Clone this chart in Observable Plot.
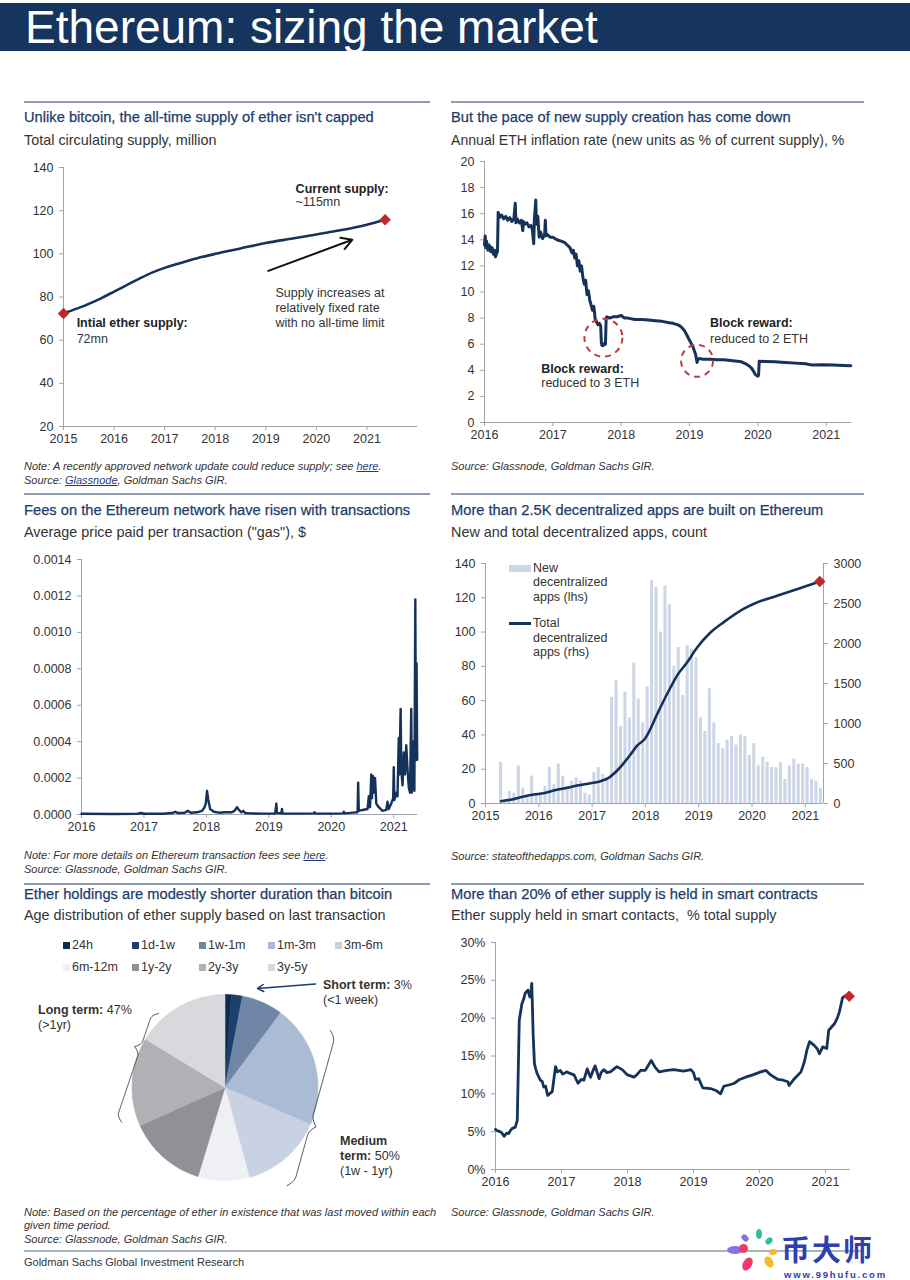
<!DOCTYPE html>
<html><head><meta charset="utf-8">
<script src="https://cdn.jsdelivr.net/npm/d3@7"></script>
<script src="https://cdn.jsdelivr.net/npm/@observablehq/plot@0.6"></script>
<style>
body{margin:0;background:#fff;font-family:"Liberation Sans",Arial,sans-serif;}
#page{position:relative;width:910px;height:1280px;overflow:hidden;background:#fff;}
.abs{position:absolute;white-space:nowrap;line-height:1;}
.title{color:#1d3c69;-webkit-text-stroke:0.25px #1d3c69;}
.sub{color:#333;}
.note{color:#333;font-style:italic;}
.note u{color:#1d3c7a;}
.lbl{color:#333;}
.chart{position:absolute;}
.chart svg{overflow:visible;}
</style></head><body><div id="page"></div>
<script>
// ---------------- DATA ----------------
// Panel 1: total circulating supply (million)
const supplyYears = [2015.0, 2015.25, 2015.5, 2015.75, 2016.0, 2016.25, 2016.5, 2016.75, 2017.0, 2017.25, 2017.5, 2017.75, 2018.0, 2018.5, 2019.0, 2019.5, 2020.0, 2020.5, 2021.0, 2021.36];
const supplyValues = [72.4, 74.5, 76.8, 79.5, 82.5, 85.5, 88.5, 91.3, 93.5, 95.3, 97.0, 98.6, 100.0, 102.5, 105.0, 107.0, 109.0, 111.0, 113.5, 115.8];
const supplyXTicks = [2015, 2016, 2017, 2018, 2019, 2020, 2021];
const supplyYTicks = [20, 40, 60, 80, 100, 120, 140];

// Panel 2: annual ETH inflation rate (%)
const inflation = [[2016.00,13.6],[2016.01,14.3],[2016.02,13.4],[2016.03,13.9],[2016.05,13.2],[2016.07,13.6],[2016.09,13.1],[2016.11,13.4],[2016.13,12.9],[2016.15,13.2],[2016.16,12.7],[2016.18,13.0],[2016.19,13.1],[2016.20,16.1],[2016.22,15.7],[2016.25,15.9],[2016.28,15.6],[2016.31,15.8],[2016.34,15.5],[2016.37,15.7],[2016.40,15.4],[2016.43,15.6],[2016.45,16.8],[2016.46,15.3],[2016.48,15.6],[2016.51,15.3],[2016.54,15.5],[2016.56,14.7],[2016.57,15.4],[2016.59,15.2],[2016.62,15.3],[2016.65,15.0],[2016.68,15.1],[2016.70,14.8],[2016.72,13.7],[2016.73,15.6],[2016.74,16.3],[2016.75,17.05],[2016.76,15.2],[2016.78,15.8],[2016.80,14.2],[2016.82,14.6],[2016.85,14.1],[2016.88,14.4],[2016.89,15.5],[2016.90,14.3],[2016.92,14.4],[2016.96,14.2],[2017.00,14.2],[2017.06,14.0],[2017.12,13.9],[2017.17,13.8],[2017.21,13.6],[2017.25,13.4],[2017.28,13.0],[2017.30,13.2],[2017.32,12.6],[2017.34,12.9],[2017.36,12.0],[2017.38,12.4],[2017.40,11.6],[2017.42,12.0],[2017.44,11.1],[2017.46,10.6],[2017.48,10.9],[2017.50,9.8],[2017.52,10.1],[2017.54,9.4],[2017.56,9.0],[2017.58,8.6],[2017.60,8.9],[2017.62,7.9],[2017.64,7.7],[2017.66,7.5],[2017.68,7.6],[2017.70,7.4],[2017.71,6.1],[2017.72,5.9],[2017.74,5.9],[2017.76,6.1],[2017.77,6.0],[2017.78,8.0],[2017.79,8.1],[2017.83,8.0],[2017.88,8.1],[2017.94,8.1],[2018.00,8.2],[2018.05,8.0],[2018.10,8.0],[2018.20,7.9],[2018.30,7.9],[2018.40,7.85],[2018.50,7.8],[2018.60,7.75],[2018.70,7.65],[2018.76,7.6],[2018.82,7.5],[2018.86,7.4],[2018.90,7.2],[2018.93,7.0],[2018.96,6.7],[2018.99,6.4],[2019.02,6.1],[2019.05,5.8],[2019.07,5.5],[2019.09,5.2],[2019.10,4.9],[2019.11,4.6],[2019.12,4.8],[2019.14,4.9],[2019.20,4.85],[2019.30,4.85],[2019.40,4.8],[2019.50,4.8],[2019.60,4.75],[2019.70,4.7],[2019.76,4.65],[2019.80,4.55],[2019.84,4.45],[2019.88,4.3],[2019.91,4.15],[2019.94,3.9],[2019.96,3.7],[2019.98,3.6],[2020.00,3.55],[2020.01,3.6],[2020.02,4.7],[2020.03,4.7],[2020.10,4.68],[2020.25,4.65],[2020.40,4.6],[2020.55,4.55],[2020.70,4.5],[2020.75,4.45],[2020.80,4.4],[2020.95,4.42],[2021.10,4.4],[2021.25,4.37],[2021.36,4.35]];
const inflXTicks = [2016, 2017, 2018, 2019, 2020, 2021];
const inflYTicks = [0, 2, 4, 6, 8, 10, 12, 14, 16, 18, 20];

// Panel 3: average gas price per transaction ($)
const gas = [[2016.00,0.000004],[2016.5,0.000003],[2016.9,0.000004],[2016.95,0.000008],[2017.0,0.000004],[2017.3,0.000004],[2017.45,0.000008],[2017.5,0.000015],[2017.55,0.000008],[2017.65,0.00001],[2017.7,0.00002],[2017.75,0.00001],[2017.85,0.000012],[2017.93,0.00002],[2017.97,0.00004],[2017.99,0.00006],[2018.01,0.00013],[2018.03,0.00008],[2018.06,0.00003],[2018.12,0.000015],[2018.2,0.00001],[2018.3,0.000012],[2018.4,0.000012],[2018.45,0.00002],[2018.49,0.00004],[2018.52,0.000025],[2018.56,0.000012],[2018.59,0.00002],[2018.62,0.000008],[2018.7,0.000006],[2018.9,0.000005],[2019.1,0.000005],[2019.12,0.00006],[2019.13,0.000008],[2019.2,0.000006],[2019.21,0.00003],[2019.22,0.000005],[2019.5,0.000005],[2019.72,0.000006],[2019.73,0.000012],[2019.75,0.000005],[2020.0,0.000005],[2020.19,0.000006],[2020.2,0.000015],[2020.22,0.000006],[2020.35,0.00001],[2020.42,0.000012],[2020.43,0.000175],[2020.44,0.00002],[2020.5,0.000025],[2020.58,0.00003],[2020.6,0.0001],[2020.62,0.00004],[2020.64,0.00022],[2020.65,0.00009],[2020.67,0.00021],[2020.68,0.00012],[2020.7,0.0002],[2020.72,0.00006],[2020.76,0.00004],[2020.82,0.00002],[2020.88,0.000025],[2020.9,0.00007],[2020.92,0.00003],[2020.96,0.00006],[2020.99,0.00009],[2021.0,0.00026],[2021.01,0.00008],[2021.04,0.00012],[2021.06,0.0001],[2021.08,0.00042],[2021.09,0.00022],[2021.11,0.00058],[2021.12,0.00025],[2021.14,0.00016],[2021.16,0.00034],[2021.18,0.00022],[2021.2,0.00038],[2021.22,0.00025],[2021.24,0.00015],[2021.26,0.00012],[2021.28,0.00058],[2021.29,0.00012],[2021.31,0.0004],[2021.33,0.00013],[2021.345,0.00118],[2021.355,0.0003],[2021.365,0.00083],[2021.375,0.0003]];
const gasXTicks = [2016, 2017, 2018, 2019, 2020, 2021];
const gasYTicks = [0, 0.0002, 0.0004, 0.0006, 0.0008, 0.0010, 0.0012, 0.0014];

// Panel 4: decentralized apps
const dappFirstMonth = 2015 + 3 / 12; // April 2015
const dappNew = [24, 1, 7, 6, 22, 9, 5, 16, 6,
  6, 10, 21, 11, 23, 16, 10, 13, 15, 13, 6, 5,
  18, 21, 17, 15, 62, 72, 45, 65, 50, 82, 61, 47,
  68, 130, 126, 100, 127, 116, 80, 91, 63, 92, 90, 85,
  50, 42, 67, 47, 35, 32, 37, 39, 34, 40, 39, 28,
  35, 22, 27, 24, 21, 21, 24, 14, 22, 26, 23, 23,
  21, 14, 13, 9];
const dappTotal = [[2015.29,29],[2015.47,46],[2015.72,87],[2015.91,112],[2016.09,129],[2016.34,171],[2016.53,196],[2016.72,225],[2016.97,254],[2017.16,279],[2017.31,321],[2017.47,412],[2017.72,612],[2017.84,721],[2018.0,817],[2018.06,887],[2018.22,1117],[2018.47,1450],[2018.59,1596],[2018.78,1762],[2018.97,1950],[2019.22,2137],[2019.47,2267],[2019.84,2433],[2020.09,2512],[2020.47,2596],[2020.84,2679],[2021.27,2775]];
const dappXTicks = [2015, 2016, 2017, 2018, 2019, 2020, 2021];
const dappLeftTicks = [0, 20, 40, 60, 80, 100, 120, 140];
const dappRightTicks = [0, 500, 1000, 1500, 2000, 2500, 3000];

// Panel 5: age distribution of ether supply (% of supply)
const ageBands = ["24h", "1d-1w", "1w-1m", "1m-3m", "3m-6m", "6m-12m", "1y-2y", "2y-3y", "3y-5y"];
const ageShares = [1.1, 1.9, 7.2, 21.3, 14.3, 8.9, 13.6, 15.4, 16.3];
const ageColors = ["#0c2a52", "#1c3f6b", "#6f86a6", "#a9bbd5", "#c8d2e2", "#eef0f3", "#8f9196", "#afb1b5", "#d8d9dc"];

// Panel 6: ether held in smart contracts (% of supply)
const smart = [[2016.0,5.3],[2016.03,5.1],[2016.07,5.0],[2016.1,4.8],[2016.13,4.4],[2016.17,4.8],[2016.2,4.75],[2016.23,5.2],[2016.25,5.4],[2016.3,5.6],[2016.33,6.5],[2016.36,19.7],[2016.4,21.9],[2016.43,22.6],[2016.45,23.3],[2016.49,23.7],[2016.52,22.8],[2016.54,23.8],[2016.55,24.6],[2016.57,18.0],[2016.59,14.0],[2016.61,13.3],[2016.63,12.7],[2016.68,11.8],[2016.71,11.6],[2016.73,10.9],[2016.76,11.0],[2016.79,9.8],[2016.83,10.1],[2016.86,10.3],[2016.91,13.6],[2016.94,12.9],[2016.98,13.1],[2017.02,12.6],[2017.08,12.9],[2017.13,12.7],[2017.19,12.5],[2017.25,11.4],[2017.3,11.9],[2017.34,11.8],[2017.39,13.3],[2017.42,12.6],[2017.44,12.2],[2017.48,13.1],[2017.51,13.7],[2017.57,12.0],[2017.6,12.8],[2017.64,13.2],[2017.69,12.8],[2017.74,12.9],[2017.84,13.6],[2017.92,13.2],[2018.0,12.5],[2018.1,12.2],[2018.15,12.6],[2018.2,13.1],[2018.27,13.1],[2018.36,14.4],[2018.42,13.5],[2018.48,12.9],[2018.6,13.1],[2018.7,13.2],[2018.85,13.0],[2018.96,13.2],[2019.0,12.8],[2019.03,11.9],[2019.08,12.0],[2019.14,10.8],[2019.26,10.7],[2019.35,10.4],[2019.41,10.0],[2019.46,11.0],[2019.55,11.2],[2019.62,11.4],[2019.7,11.9],[2019.79,12.2],[2019.9,12.5],[2020.02,12.9],[2020.1,13.1],[2020.17,12.5],[2020.28,11.9],[2020.36,11.8],[2020.43,11.6],[2020.45,11.1],[2020.53,12.0],[2020.63,12.9],[2020.68,14.2],[2020.72,15.8],[2020.76,16.9],[2020.83,16.4],[2020.88,15.9],[2020.91,15.3],[2020.96,16.2],[2021.02,16.0],[2021.05,18.4],[2021.1,18.9],[2021.14,19.3],[2021.18,20.0],[2021.21,20.8],[2021.26,22.7],[2021.31,23.0],[2021.36,22.9]];
const smartXTicks = [2016, 2017, 2018, 2019, 2020, 2021];
const smartYTicks = [0, 5, 10, 15, 20, 25, 30];

// ---------------- STYLE ----------------
const NAVY = "#15325a", RED = "#c0282e", AXIS = "#a0a4aa", TXT = "#333";
const TITLE = 14.7, SUB = 14.4, NOTE = 11, LBL = 12.5;
const baseStyle = {fontFamily: '"Liberation Sans", Arial, sans-serif', fontSize: "12.5px", color: TXT, background: "transparent", overflow: "visible"};
const page = document.getElementById("page");

function div(cls, x, yc, html, size, extra) {
  const d = document.createElement("div");
  d.className = "abs " + cls;
  d.style.left = x + "px";
  d.style.top = (yc - size / 2) + "px";
  d.style.fontSize = size + "px";
  if (extra) Object.assign(d.style, extra);
  d.innerHTML = html;
  page.appendChild(d);
  return d;
}
function box(x, y, w, h, bg) {
  const d = document.createElement("div");
  d.style.cssText = `position:absolute;left:${x}px;top:${y}px;width:${w}px;height:${h}px;background:${bg}`;
  page.appendChild(d);
  return d;
}
function place(svg, x, y) {
  const w = document.createElement("div");
  w.className = "chart";
  w.style.left = x + "px";
  w.style.top = y + "px";
  w.appendChild(svg);
  page.appendChild(w);
}
const xAxis = (ticks, fmt) => Plot.axisX({ticks, tickFormat: fmt || (d => String(d)), tickSize: 4, tickPadding: 4, stroke: AXIS, fill: TXT, label: null});
const yAxis = (ticks, fmt, anchor) => Plot.axisY({ticks, tickFormat: fmt || (d => String(d)), tickSize: 4, tickPadding: 6, stroke: AXIS, fill: TXT, label: null, anchor: anchor || "left"});
const marker = (data) => Plot.dot(data, {x: "year", y: "value", symbol: "square", rotate: 45, fill: RED, r: 4.6});

// ---------------- HEADER ----------------
box(0, 3, 910, 48, "#15355f");
div("", 25, 27, "Ethereum: sizing the market", 46, {color: "#fff"});

// separators
box(24, 101, 406, 2, "#8e9db2"); box(451, 101, 413, 2, "#8e9db2");
box(24, 493, 406, 2, "#8e9db2"); box(451, 493, 413, 2, "#8e9db2");
box(24, 883, 406, 2, "#8e9db2"); box(451, 883, 413, 2, "#8e9db2");
box(24, 1250, 840, 1.5, "#a9b3c1");

// ---------------- TEXTS ----------------
div("title", 24, 117, "Unlike bitcoin, the all-time supply of ether isn't capped", TITLE);
div("sub", 24, 140, "Total circulating supply, million", SUB);
div("note", 24, 466, "Note: A recently approved network update could reduce supply; see <u>here</u>.", NOTE);
div("note", 24, 480, "Source: <u>Glassnode</u>, Goldman Sachs GIR.", NOTE);

div("title", 451, 117, "But the pace of new supply creation has come down", TITLE);
div("sub", 451, 140, "Annual ETH inflation rate (new units as % of current supply), %", 14.1);
div("note", 451, 466, "Source: Glassnode, Goldman Sachs GIR.", NOTE);

div("title", 24, 510.5, "Fees on the Ethereum network have risen with transactions", TITLE);
div("sub", 24, 532.5, "Average price paid per transaction (\"gas\"), $", SUB);
div("note", 24, 855.5, "Note: For more details on Ethereum transaction fees see <u>here</u>.", NOTE);
div("note", 24, 869.5, "Source: Glassnode, Goldman Sachs GIR.", NOTE);

div("title", 451, 510.5, "More than 2.5K decentralized apps are built on Ethereum", TITLE);
div("sub", 451, 532.5, "New and total decentralized apps, count", SUB);
div("note", 451, 856, "Source: stateofthedapps.com, Goldman Sachs GIR.", NOTE);

div("title", 24, 894, "Ether holdings are modestly shorter duration than bitcoin", TITLE);
div("sub", 24, 915.5, "Age distribution of ether supply based on last transaction", SUB);
div("note", 24, 1212, "Note: Based on the percentage of ether in existence that was last moved within each", NOTE);
div("note", 24, 1225.5, "given time period.", NOTE);
div("note", 24, 1239.5, "Source: Glassnode, Goldman Sachs GIR.", NOTE);

div("title", 451, 894, "More than 20% of ether supply is held in smart contracts", TITLE);
div("sub", 451, 915.5, "Ether supply held in smart contacts,&nbsp; % total supply", SUB);
div("note", 451, 1212, "Source: Glassnode, Goldman Sachs GIR.", NOTE);

div("", 24, 1262, "Goldman Sachs Global Investment Research", 11, {color: "#333"});

// ---------------- PANEL 1 ----------------
const supplyData = supplyYears.map((y, i) => ({year: y, value: supplyValues[i]}));
const supplyEnds = [supplyData[0], supplyData[supplyData.length - 1]];
place(Plot.plot({
  width: 400, height: 295, marginLeft: 39, marginRight: 7, marginTop: 12, marginBottom: 24,
  style: baseStyle,
  x: {domain: [2015, 2022]}, y: {domain: [20, 140]},
  marks: [
    Plot.ruleX([2015], {stroke: AXIS}),
    Plot.ruleY([20], {stroke: AXIS}),
    yAxis(supplyYTicks),
    xAxis(supplyXTicks),
    Plot.line(supplyData, {x: "year", y: "value", stroke: NAVY, strokeWidth: 2.6, curve: "monotone-x"}),
    marker(supplyEnds),
    Plot.arrow([{x1: 2019.05, y1: 92.1, x2: 2020.71, y2: 106.5}], {x1: "x1", y1: "y1", x2: "x2", y2: "y2", stroke: "#111", strokeWidth: 2, headLength: 9}),
    Plot.text([{x: 2019.59, y: 130.1, t: "Current supply:"}, {x: 2015.26, y: 68.1, t: "Intial ether supply:"}], {x: "x", y: "y", text: "t", textAnchor: "start", fontWeight: "bold", fill: "#222", fontSize: LBL}),
    Plot.text([{x: 2019.59, y: 124.0, t: "~115mn"}, {x: 2015.26, y: 60.7, t: "72mn"},
      {x: 2019.19, y: 82.0, t: "Supply increases at"}, {x: 2019.19, y: 75.1, t: "relatively fixed rate"}, {x: 2019.19, y: 68.1, t: "with no all-time limit"}],
      {x: "x", y: "y", text: "t", textAnchor: "start", fill: TXT, fontSize: LBL})
  ]
}), 24, 155);

// ---------------- PANEL 2 ----------------
const inflData = inflation.map(([y, v]) => ({year: y, value: v}));
place(Plot.plot({
  width: 420, height: 295, marginLeft: 44, marginRight: 9, marginTop: 11, marginBottom: 23,
  style: baseStyle,
  x: {domain: [2016, 2021.37]}, y: {domain: [0, 20]},
  marks: [
    Plot.ruleX([2016], {stroke: AXIS}),
    Plot.ruleY([0], {stroke: AXIS}),
    yAxis(inflYTicks),
    xAxis(inflXTicks),
    Plot.line(inflData, {x: "year", y: "value", stroke: NAVY, strokeWidth: 3}),
    Plot.dot([{x: 2017.74, y: 6.5}], {x: "x", y: "y", r: 19, stroke: "#c03a3e", strokeWidth: 2, strokeDasharray: "6,5", fill: "none"}),
    Plot.dot([{x: 2019.11, y: 4.73}], {x: "x", y: "y", r: 16, stroke: "#c03a3e", strokeWidth: 2, strokeDasharray: "6,5", fill: "none"}),
    Plot.text([{x: 2016.83, y: 4.11, t: "Block reward:"}, {x: 2019.30, y: 7.65, t: "Block reward:"}], {x: "x", y: "y", text: "t", textAnchor: "start", fontWeight: "bold", fill: "#222", fontSize: LBL}),
    Plot.text([{x: 2016.83, y: 3.05, t: "reduced to 3 ETH"}, {x: 2019.30, y: 6.42, t: "reduced to 2 ETH"}], {x: "x", y: "y", text: "t", textAnchor: "start", fill: TXT, fontSize: LBL})
  ]
}), 440, 150);

// ---------------- PANEL 3 ----------------
const gasData = gas.map(([y, v]) => ({year: y, value: v}));
place(Plot.plot({
  width: 400, height: 290, marginLeft: 57, marginRight: 7, marginTop: 11, marginBottom: 24,
  style: baseStyle,
  x: {domain: [2016, 2021.38]}, y: {domain: [0, 0.0014]},
  marks: [
    Plot.ruleX([2016], {stroke: AXIS}),
    Plot.ruleY([0], {stroke: AXIS}),
    yAxis(gasYTicks, d => d.toFixed(4)),
    xAxis(gasXTicks),
    Plot.line(gasData, {x: "year", y: "value", stroke: NAVY, strokeWidth: 2.4})
  ]
}), 24, 548);

// ---------------- PANEL 4 ----------------
const dappBars = dappNew.map((v, i) => ({t0: dappFirstMonth + i / 12, t1: dappFirstMonth + (i + 1) / 12, v}));
const k = 140 / 3000;
const dappLine = dappTotal.map(([y, v]) => ({year: y, value: v * k}));
place(Plot.plot({
  width: 425, height: 275, marginLeft: 45, marginRight: 42, marginTop: 11, marginBottom: 24,
  style: baseStyle,
  x: {domain: [2015, 2021.34]}, y: {domain: [0, 140]},
  marks: [
    Plot.rectY(dappBars, {x1: "t0", x2: "t1", y: "v", insetLeft: 0.7, insetRight: 0.7, fill: "#cdd6e6"}),
    Plot.ruleX([2015, 2021.34], {stroke: AXIS}),
    Plot.ruleY([0], {stroke: AXIS}),
    yAxis(dappLeftTicks),
    yAxis(dappRightTicks.map(t => t * k), d => String(Math.round(d / k)), "right"),
    xAxis(dappXTicks),
    Plot.line(dappLine, {x: "year", y: "value", stroke: NAVY, strokeWidth: 2.6, curve: "monotone-x"}),
    marker([dappLine[dappLine.length - 1]])
  ]
}), 440, 552);
// legend for panel 4
box(509, 565, 22, 7, "#cdd6e6");
div("lbl", 533, 568, "New", LBL);
div("lbl", 533, 582.5, "decentralized", LBL);
div("lbl", 533, 597, "apps (lhs)", LBL);
box(509, 622, 22, 3, NAVY);
div("lbl", 533, 623.5, "Total", LBL);
div("lbl", 533, 638, "decentralized", LBL);
div("lbl", 533, 652.5, "apps (rhs)", LBL);

// ---------------- PANEL 5 (pie) ----------------
const pieArcs = d3.pie().sort(null).value(d => d)(ageShares);
const sliceMarks = pieArcs.map((a, i) => {
  const n = Math.max(2, Math.ceil((a.endAngle - a.startAngle) / 0.02));
  const pts = [{x: 0, y: 0}];
  for (let j = 0; j <= n; j++) {
    const ang = a.startAngle + (a.endAngle - a.startAngle) * j / n;
    pts.push({x: Math.sin(ang), y: Math.cos(ang)});
  }
  pts.push({x: 0, y: 0});
  return Plot.line(pts, {x: "x", y: "y", fill: ageColors[i], stroke: ageColors[i], strokeWidth: 0.6, curve: "linear"});
});
// curly brace annotation helper (unit coordinates of the pie frame)
function brace(x0, y0, x1, y1, nx, ny, depth, tip) {
  const pts = [];
  const e = 0.07, w = 0.07;
  for (let j = 0; j <= 200; j++) {
    const s = j / 200;
    const m = Math.min(s, 1 - s);
    const g = m < e ? 0.5 * (1 - Math.pow(1 - m / e, 2)) : 0.5;
    const h = Math.abs(s - tip) < w ? 0.5 * Math.pow(1 - Math.abs(s - tip) / w, 2) : 0;
    const f = (g + h) * depth;
    pts.push({x: x0 + (x1 - x0) * s + nx * f, y: y0 + (y1 - y0) * s + ny * f});
  }
  return pts;
}
const cx = 200.5, cy = 112, R = 93;
const braceLong = brace(-0.715, 0.796, -1.11, -0.373, -0.947, 0.320, 0.13, 0.34);
const braceMed = brace(1.134, 0.613, 0.669, -1.054, 0.963, -0.269, 0.13, 0.60);
place(Plot.plot({
  width: 406, height: 230, margin: 0,
  style: baseStyle,
  x: {domain: [-1, 1], range: [cx - R, cx + R], axis: null},
  y: {domain: [-1, 1], range: [cy + R, cy - R], axis: null},
  marks: [
    ...sliceMarks,
    Plot.line(braceLong, {x: "x", y: "y", stroke: "#444", strokeWidth: 1}),
    Plot.line(braceMed, {x: "x", y: "y", stroke: "#444", strokeWidth: 1}),
    Plot.arrow([{x1: 0.973, y1: 1.113, x2: 0.349, y2: 1.065}], {x1: "x1", y1: "y1", x2: "x2", y2: "y2", stroke: "#1d3c69", strokeWidth: 1.5, headLength: 7})
  ]
}), 24, 975);
// legend for pie
const legX = [63, 132, 199, 268, 335, 63, 132, 199, 268];
const legY = [945, 945, 945, 945, 945, 967, 967, 967, 967];
ageBands.forEach((b, i) => {
  box(legX[i], legY[i] - 3.5, 7, 7, ageColors[i]);
  div("lbl", legX[i] + 9, legY[i], b, LBL);
});
div("lbl", 323, 985, "<b>Short term:</b> 3%", LBL);
div("lbl", 323, 1000, "(&lt;1 week)", LBL);
div("lbl", 38, 1010, "<b>Long term:</b> 47%", LBL);
div("lbl", 38, 1025, "(&gt;1yr)", LBL);
div("lbl", 340, 1141, "<b>Medium</b>", LBL);
div("lbl", 340, 1156.5, "<b>term:</b> 50%", LBL);
div("lbl", 340, 1171, "(1w - 1yr)", LBL);

// ---------------- PANEL 6 ----------------
const smartData = smart.map(([y, v]) => ({year: y, value: v}));
place(Plot.plot({
  width: 420, height: 260, marginLeft: 55, marginRight: 10, marginTop: 10, marginBottom: 23,
  style: baseStyle,
  x: {domain: [2016, 2021.38]}, y: {domain: [0, 30]},
  marks: [
    Plot.ruleX([2016], {stroke: AXIS}),
    Plot.ruleY([0], {stroke: AXIS}),
    yAxis(smartYTicks, d => d + "%"),
    xAxis(smartXTicks),
    Plot.line(smartData, {x: "year", y: "value", stroke: NAVY, strokeWidth: 2.8}),
    marker([smartData[smartData.length - 1]])
  ]
}), 440, 932);

// ---------------- WATERMARK ----------------
const petals = [["#8b6fe0", -22, 0, 16, 8, 0], ["#f0386a", -10, 14, 9, 14, 30], ["#f0386a", -14, -2, 9, 9, 0], ["#f6b52a", 12, 12, 8, 12, -30], ["#2bbf9f", 2, -16, 6, 10, 0], ["#2bbf9f", 12, -9, 6, 8, 45], ["#8b6fe0", -12, -12, 6, 8, -45], ["#f6b52a", 16, 2, 8, 6, 0]];
petals.forEach(([c, dx, dy, w, h, rot]) => {
  const d = box(757 + dx - w / 2, 1250 + dy - h / 2, w, h, c);
  d.style.borderRadius = "50%";
  d.style.transform = `rotate(${rot}deg)`;
});
div("", 781, 1248, "币大师", 29, {color: "#2f3fb0", fontFamily: '"Noto Sans CJK SC", sans-serif', fontWeight: "bold", letterSpacing: "2px", lineHeight: "29px"});
div("", 784, 1274.5, "www.99hufu.com", 9.5, {color: "#2f3fb0", fontWeight: "bold", letterSpacing: "1.8px"});
</script></body></html>
